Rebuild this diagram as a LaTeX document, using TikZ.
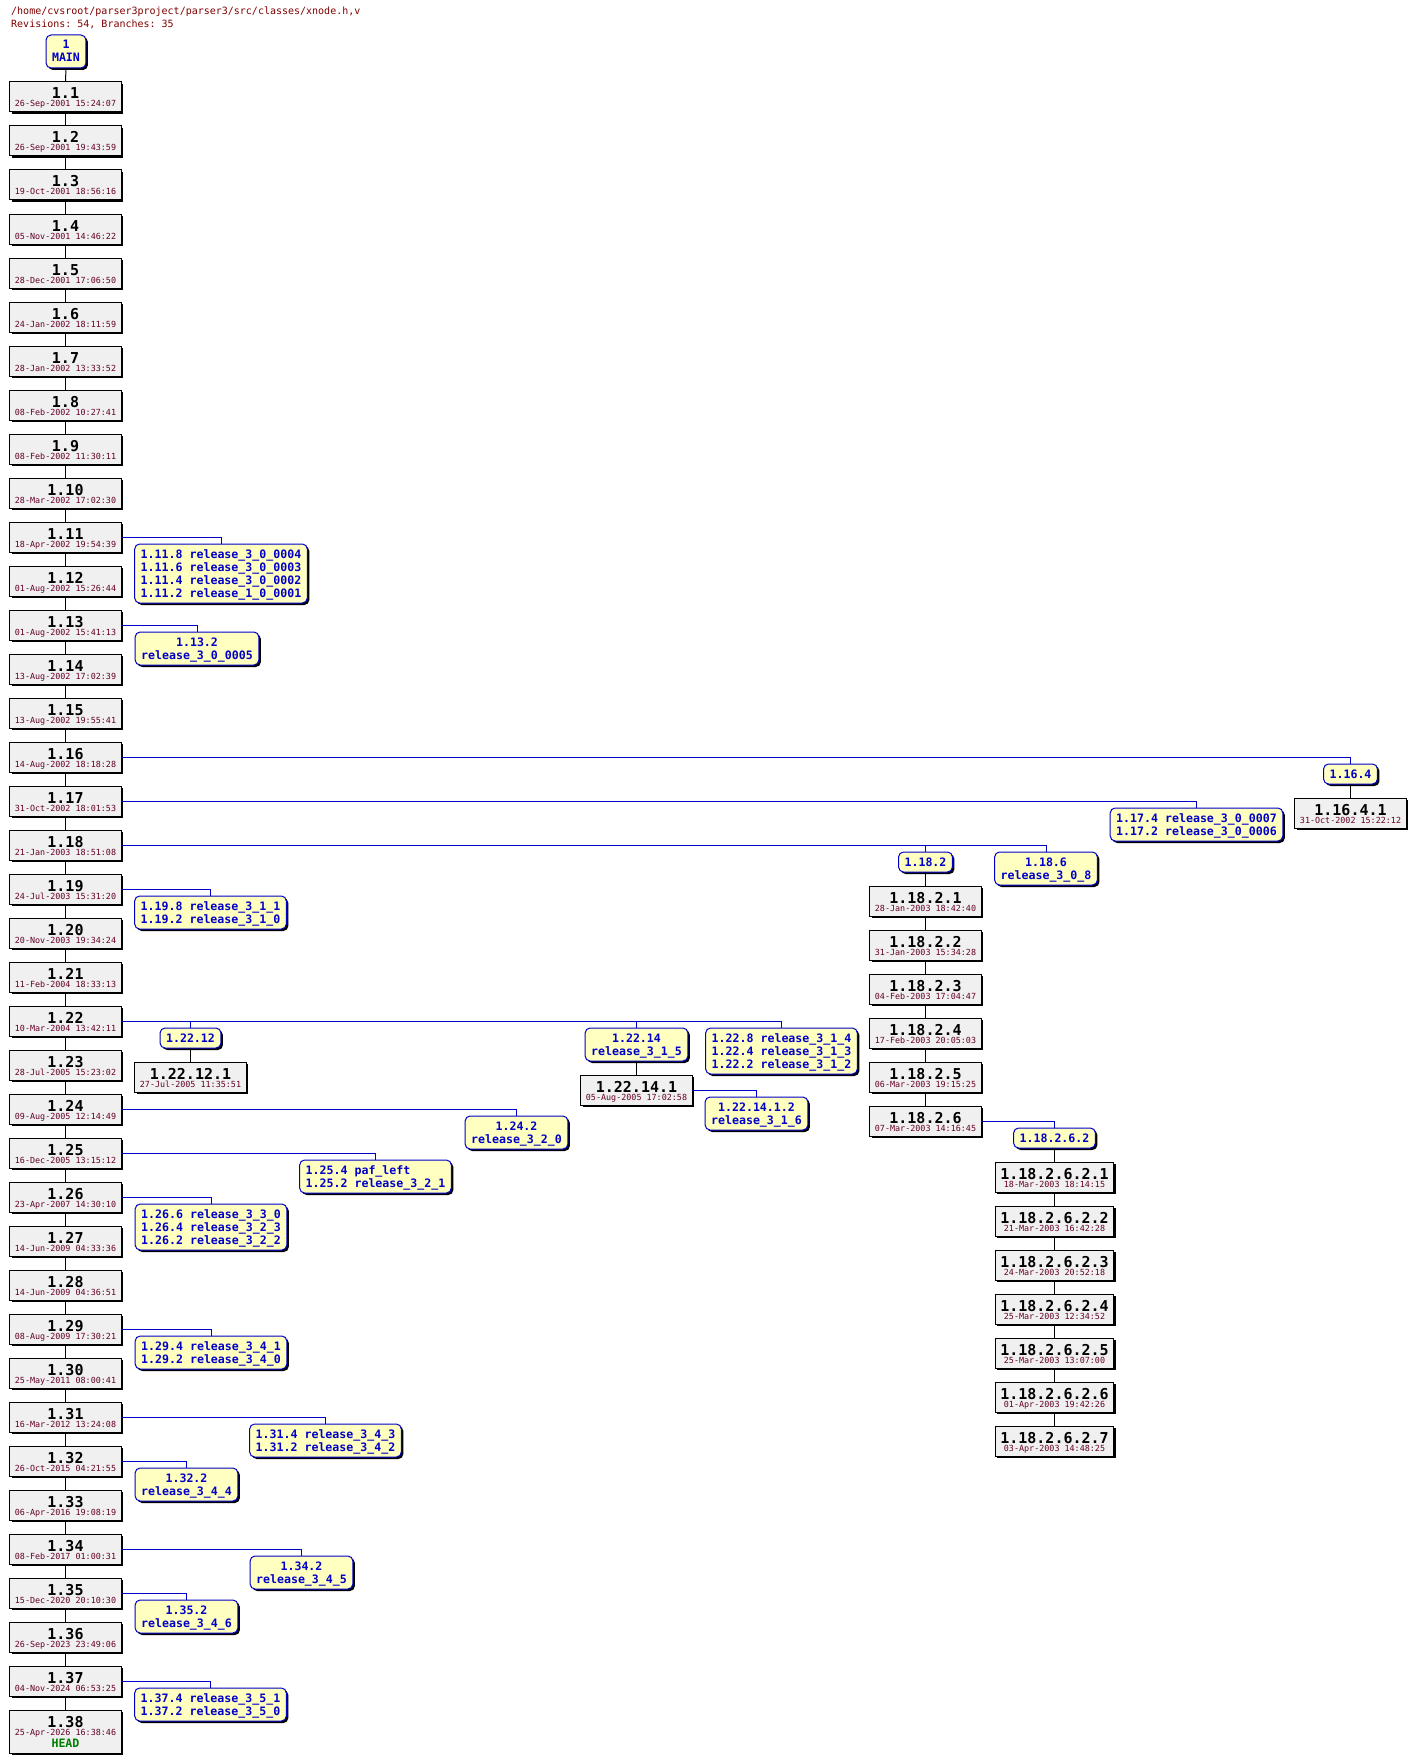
\documentclass[tikz,border=0pt]{standalone}
\usepackage{fontspec}
\setmonofont{DejaVu Sans Mono}
\usetikzlibrary{shadows}

\definecolor{datered}{RGB}{100,0,40}
\definecolor{titlered}{RGB}{128,0,0}
\definecolor{tagblue}{RGB}{0,0,200}
\definecolor{tagfill}{RGB}{255,255,192}
\definecolor{revfill}{RGB}{240,240,240}
\definecolor{headgreen}{RGB}{0,128,0}

\lineskiplimit=-20pt
\newcommand{\revdate}[1]{{\mdseries\fontsize{8.4}{8}\selectfont\color{datered}#1}}

\tikzset{
  rev/.style={draw=black, fill=revfill, line width=1pt, inner xsep=5pt, inner ysep=0pt,
    outer sep=0pt, anchor=north, align=center, text height=25pt, text depth=5pt,
    font=\ttfamily\bfseries\fontsize{15}{8}\selectfont,
    drop shadow={shadow xshift=2pt, shadow yshift=-2pt, fill=black, opacity=1}},
  tag/.style={draw=tagblue, fill=tagfill, text=tagblue, line width=1pt, rounded corners=5pt,
    inner xsep=6pt, inner ysep=0pt, outer sep=0pt, anchor=north, align=center,
    /utils/exec={\pgfmathsetlengthmacro\tagheight{14pt+13pt*(#1-1)}},
    text height=\tagheight, text depth=6pt,
    font=\ttfamily\bfseries\fontsize{11.6}{13}\selectfont,
    drop shadow={shadow xshift=2pt, shadow yshift=-2pt, fill=black, opacity=1}},
  tag/.default=1,
  trunk/.style={line width=1pt, black},
  branch/.style={line width=1pt, tagblue},
}

\begin{document}
\begin{tikzpicture}[x=1pt, y=-1pt]
  \useasboundingbox (0,0) rectangle (1415,1763);

  \node[anchor=base west, inner sep=0pt, text=titlered, font=\ttfamily\fontsize{10}{12}\selectfont]
    (title) at (11,15) {/home/cvsroot/parser3project/parser3/src/classes/xnode.h,v};
  \node[anchor=base west, inner sep=0pt, text=titlered, font=\ttfamily\fontsize{10}{12}\selectfont]
    (counts) at (11,28) {Revisions: 54, Branches: 35};

  % trunk
  \node[tag=2] (main) at (66,35) {1\\MAIN};
  \foreach \d [count=\i] in {26-Sep-2001 15:24:07, 26-Sep-2001 19:43:59, 19-Oct-2001 18:56:16,
      05-Nov-2001 14:46:22, 28-Dec-2001 17:06:50, 24-Jan-2002 18:11:59, 28-Jan-2002 13:33:52,
      08-Feb-2002 10:27:41, 08-Feb-2002 11:30:11, 28-Mar-2002 17:02:30, 18-Apr-2002 19:54:39,
      01-Aug-2002 15:26:44, 01-Aug-2002 15:41:13, 13-Aug-2002 17:02:39, 13-Aug-2002 19:55:41,
      14-Aug-2002 18:18:28, 31-Oct-2002 18:01:53, 21-Jan-2003 18:51:08, 24-Jul-2003 15:31:20,
      20-Nov-2003 19:34:24, 11-Feb-2004 18:33:13, 10-Mar-2004 13:42:11, 28-Jul-2005 15:23:02,
      09-Aug-2005 12:14:49, 16-Dec-2005 13:15:12, 23-Apr-2007 14:30:10, 14-Jun-2009 04:33:36,
      14-Jun-2009 04:36:51, 08-Aug-2009 17:30:21, 25-May-2011 08:00:41, 16-Mar-2012 13:24:08,
      26-Oct-2015 04:21:55, 06-Apr-2016 19:08:19, 08-Feb-2017 01:00:31, 15-Dec-2020 20:10:30,
      26-Sep-2023 23:49:06, 04-Nov-2024 06:53:25}
    \node[rev] (r\i) at (65.5,{82+44*(\i-1)}) {1.\i\\\revdate{\d}};
  \node[rev, text height=37pt, text depth=6pt] (r38) at (65.5,1710)
    {1.38\\\revdate{25-Apr-2026 16:38:46}\\[4pt]{\bfseries\fontsize{11.6}{8}\selectfont\color{headgreen}HEAD}};

  \draw[trunk] (main.south) -- (r1.north);
  \foreach \i [remember=\i as \j (initially 1)] in {2,...,38}
    \draw[trunk] (r\j.south) -- (r\i.north);

  % tags on the trunk
  \node[tag=4, align=left] (t11) at (221,544)
    {1.11.8 release\_3\_0\_0004\\1.11.6 release\_3\_0\_0003\\1.11.4 release\_3\_0\_0002\\1.11.2 release\_1\_0\_0001};
  \node[tag=2] (t13) at (197,632) {1.13.2\\release\_3\_0\_0005};
  \node[tag=2, align=left] (t17) at (1196.5,808) {1.17.4 release\_3\_0\_0007\\1.17.2 release\_3\_0\_0006};
  \node[tag=2] (t18b) at (1046,852) {1.18.6\\release\_3\_0\_8};
  \node[tag=2, align=left] (t19) at (210.5,896) {1.19.8 release\_3\_1\_1\\1.19.2 release\_3\_1\_0};
  \node[tag=2] (t22b) at (636.5,1028) {1.22.14\\release\_3\_1\_5};
  \node[tag=3, align=left] (t22c) at (781.5,1028)
    {1.22.8 release\_3\_1\_4\\1.22.4 release\_3\_1\_3\\1.22.2 release\_3\_1\_2};
  \node[tag=2] (t24) at (516.5,1116) {1.24.2\\release\_3\_2\_0};
  \node[tag=2, align=left] (t25) at (375.5,1160) {1.25.4 paf\_left\\1.25.2 release\_3\_2\_1};
  \node[tag=3, align=left] (t26) at (211,1204)
    {1.26.6 release\_3\_3\_0\\1.26.4 release\_3\_2\_3\\1.26.2 release\_3\_2\_2};
  \node[tag=2, align=left] (t29) at (211,1336) {1.29.4 release\_3\_4\_1\\1.29.2 release\_3\_4\_0};
  \node[tag=2, align=left] (t31) at (325.5,1424) {1.31.4 release\_3\_4\_3\\1.31.2 release\_3\_4\_2};
  \node[tag=2] (t32) at (186.5,1468) {1.32.2\\release\_3\_4\_4};
  \node[tag=2] (t34) at (301.5,1556) {1.34.2\\release\_3\_4\_5};
  \node[tag=2] (t35) at (186.5,1600) {1.35.2\\release\_3\_4\_6};
  \node[tag=2, align=left] (t37) at (210.5,1688) {1.37.4 release\_3\_5\_1\\1.37.2 release\_3\_5\_0};

  \foreach \i in {11,13,17,19,24,25,26,29,31,32,34,35,37}
    \draw[branch] (r\i.east) -| (t\i.north);
  \draw[branch] (r18.east) -| (t18b.north);
  \draw[branch] (r22.east) -| (t22c.north);
  \draw[branch] (r22.east) -| (t22b.north);

  % branch 1.16.4
  \node[tag] (t16) at (1350.5,764) {1.16.4};
  \node[rev] (r16-4-1) at (1350.5,798) {1.16.4.1\\\revdate{31-Oct-2002 15:22:12}};
  \draw[branch] (r16.east) -| (t16.north);
  \draw[trunk] (t16.south) -- (r16-4-1.north);

  % branch 1.18.2
  \node[tag] (t18a) at (925.5,852) {1.18.2};
  \foreach \d [count=\k] in {28-Jan-2003 18:42:40, 31-Jan-2003 15:34:28, 04-Feb-2003 17:04:47,
      17-Feb-2003 20:05:03, 06-Mar-2003 19:15:25, 07-Mar-2003 14:16:45}
    \node[rev] (r18-2-\k) at (925.5,{886+44*(\k-1)}) {1.18.2.\k\\\revdate{\d}};
  \draw[branch] (r18.east) -| (t18a.north);
  \draw[trunk] (t18a.south) -- (r18-2-1.north);
  \foreach \k [remember=\k as \p (initially 1)] in {2,...,6}
    \draw[trunk] (r18-2-\p.south) -- (r18-2-\k.north);

  % branch 1.18.2.6.2
  \node[tag] (t18262) at (1054.5,1128) {1.18.2.6.2};
  \foreach \d [count=\k] in {18-Mar-2003 18:14:15, 21-Mar-2003 16:42:28, 24-Mar-2003 20:52:18,
      25-Mar-2003 12:34:52, 25-Mar-2003 13:07:00, 01-Apr-2003 19:42:26, 03-Apr-2003 14:48:25}
    \node[rev] (r18-2-6-2-\k) at (1054.5,{1162+44*(\k-1)}) {1.18.2.6.2.\k\\\revdate{\d}};
  \draw[branch] (r18-2-6.east) -| (t18262.north);
  \draw[trunk] (t18262.south) -- (r18-2-6-2-1.north);
  \foreach \k [remember=\k as \p (initially 1)] in {2,...,7}
    \draw[trunk] (r18-2-6-2-\p.south) -- (r18-2-6-2-\k.north);

  % branches 1.22.12 and 1.22.14
  \node[tag] (t22a) at (190.5,1028) {1.22.12};
  \node[rev] (r22-12-1) at (190.5,1062) {1.22.12.1\\\revdate{27-Jul-2005 11:35:51}};
  \draw[branch] (r22.east) -| (t22a.north);
  \draw[trunk] (t22a.south) -- (r22-12-1.north);

  \node[rev] (r22-14-1) at (636.5,1075) {1.22.14.1\\\revdate{05-Aug-2005 17:02:58}};
  \draw[trunk] (t22b.south) -- (r22-14-1.north);
  \node[tag=2] (t2214) at (756.5,1097) {1.22.14.1.2\\release\_3\_1\_6};
  \draw[branch] (r22-14-1.east) -| (t2214.north);
\end{tikzpicture}
\end{document}
